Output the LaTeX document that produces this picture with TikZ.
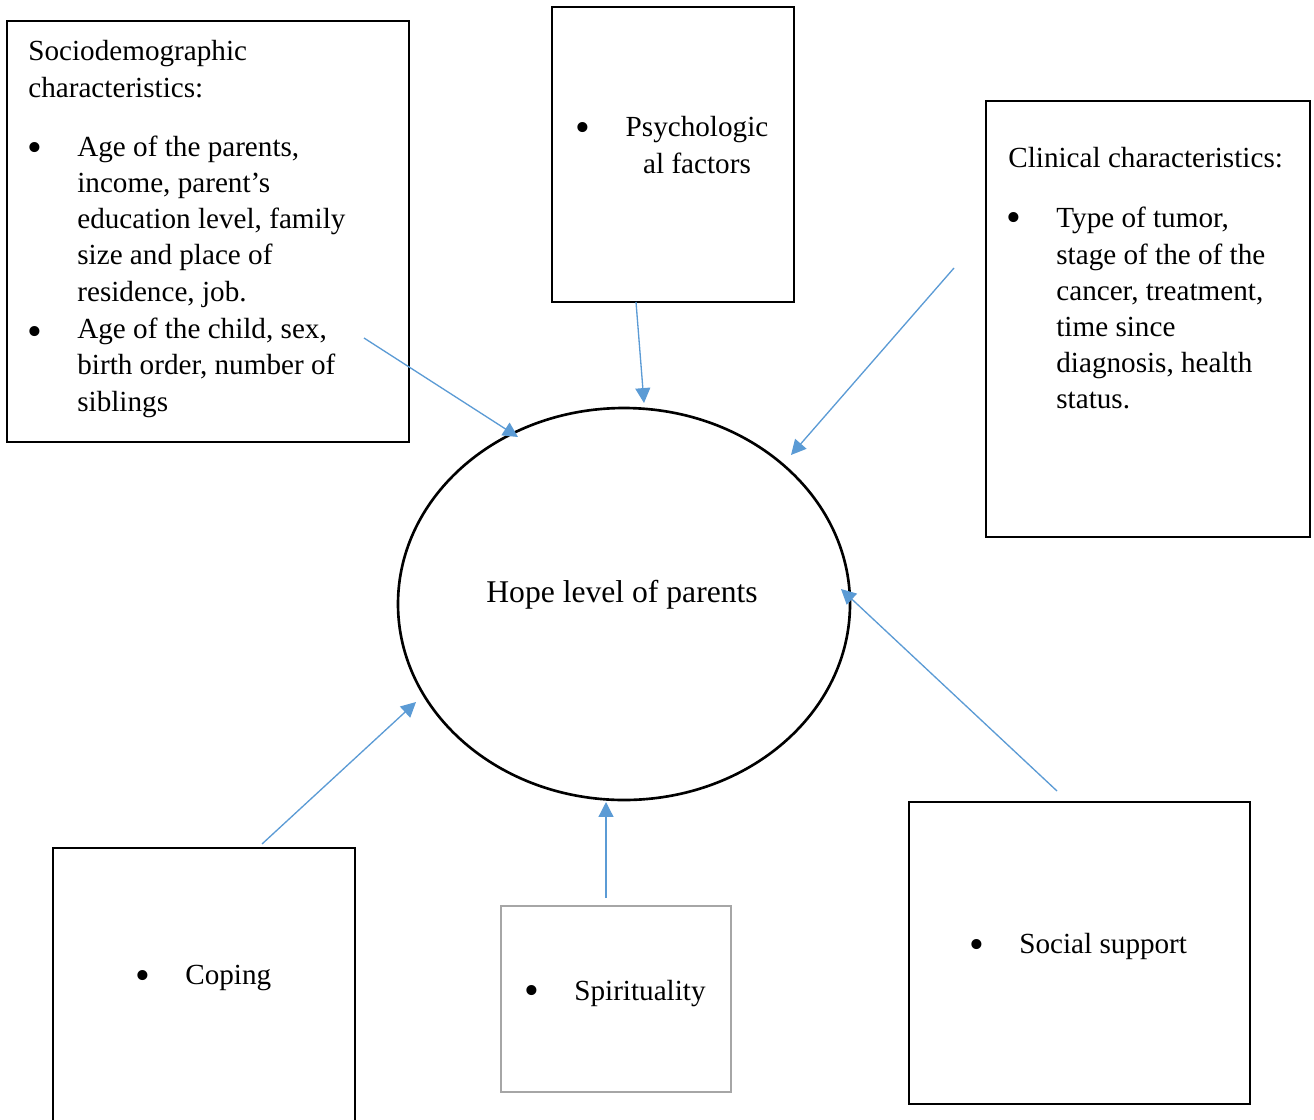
\documentclass[tikz,border=0pt]{standalone}
\usepackage{fontspec}
\setmainfont{Liberation Serif}
\usetikzlibrary{shapes.geometric,arrows.meta}
\definecolor{arrowblue}{HTML}{5B9BD5}
\definecolor{boxgray}{HTML}{A6A6A6}
\begin{document}
\begin{tikzpicture}[x=0.02cm,y=-0.02cm,
  box/.style={draw=black,line width=1.5pt,rectangle,inner sep=0pt},
  graybox/.style={draw=boxgray,line width=1.5pt,rectangle,inner sep=0pt},
  txt/.style={inner sep=0pt,anchor=base west,align=left,font=\fontsize{16.6}{20.55}\selectfont},
  ctxt/.style={inner sep=0pt,anchor=base,align=center,font=\fontsize{16.6}{20.55}\selectfont},
  bul/.style={inner sep=0pt,anchor=center,font=\fontsize{24}{24}\selectfont},
  conn/.style={draw=arrowblue,line width=0.75pt,-{Triangle[length=8.5pt,width=8.5pt]}}]
\useasboundingbox (0,0) rectangle (1314,1119);
\fill[white] (0,0) rectangle (1314,1119);
% boxes
\node[box,minimum width={402*0.02cm},minimum height={421*0.02cm}] (socio) at (208,231.5) {};
\node[box,minimum width={242*0.02cm},minimum height={295*0.02cm}] (psych) at (673,154.5) {};
\node[box,minimum width={324*0.02cm},minimum height={436*0.02cm}] (clin) at (1148,319) {};
\node[box,minimum width={302*0.02cm},minimum height={276*0.02cm}] (coping) at (204,986) {};
\node[graybox,minimum width={230*0.02cm},minimum height={186*0.02cm}] (spirit) at (616,999) {};
\node[box,minimum width={341*0.02cm},minimum height={302*0.02cm}] (social) at (1079.5,953) {};
\node[draw=black,line width=1.5pt,ellipse,inner sep=0pt,minimum width={452*0.02cm},minimum height={392*0.02cm}] (hope) at (624,604) {};
% texts (base anchor = baseline of the last line)
\node[txt] (sochead) at (28,97) {Sociodemographic\\characteristics:};
\node[bul] (sb1) at (35,152) {•};
\node[txt] (st1) at (77,301) {Age of the parents,\\income, parent’s\\education level, family\\size and place of\\residence, job.};
\node[bul] (sb2) at (35,336) {•};
\node[txt] (st2) at (77,411) {Age of the child, sex,\\birth order, number of\\siblings};
\node[bul] (pb) at (583,132) {•};
\node[ctxt] (pt) at (697,173) {Psychologic\\al factors};
\node[txt] (clhead) at (1008,167) {Clinical characteristics:};
\node[bul] (cb) at (1014,222) {•};
\node[txt] (ct) at (1056,408.5) {Type of tumor,\\stage of the of the\\cancer, treatment,\\time since\\diagnosis, health\\status.};
\node[bul] (cob) at (143,980) {•};
\node[txt] (cot) at (185,984) {Coping};
\node[bul] (spb) at (532,995) {•};
\node[txt] (spt) at (574,1000) {Spirituality};
\node[bul] (ssb) at (977,949) {•};
\node[txt] (sst) at (1019,953) {Social support};
\node[txt,font=\fontsize{18}{20.55}\selectfont] (hopet) at (486,602) {Hope level of parents};
% connector ends
\coordinate (a1s) at (364,338); \coordinate (a1e) at (518,437);
\coordinate (a2s) at (636,302); \coordinate (a2e) at (644,403);
\coordinate (a3s) at (954,268); \coordinate (a3e) at (791,455);
\coordinate (a4s) at (1057,791); \coordinate (a4e) at (841,589);
\coordinate (a5s) at (606,898); \coordinate (a5e) at (606,802);
\coordinate (a6s) at (262,844); \coordinate (a6e) at (416,702);
\draw[conn] (a1s) -- (a1e);
\draw[conn] (a2s) -- (a2e);
\draw[conn] (a3s) -- (a3e);
\draw[conn] (a4s) -- (a4e);
\draw[conn] (a5s) -- (a5e);
\draw[conn] (a6s) -- (a6e);
\end{tikzpicture}
\end{document}
